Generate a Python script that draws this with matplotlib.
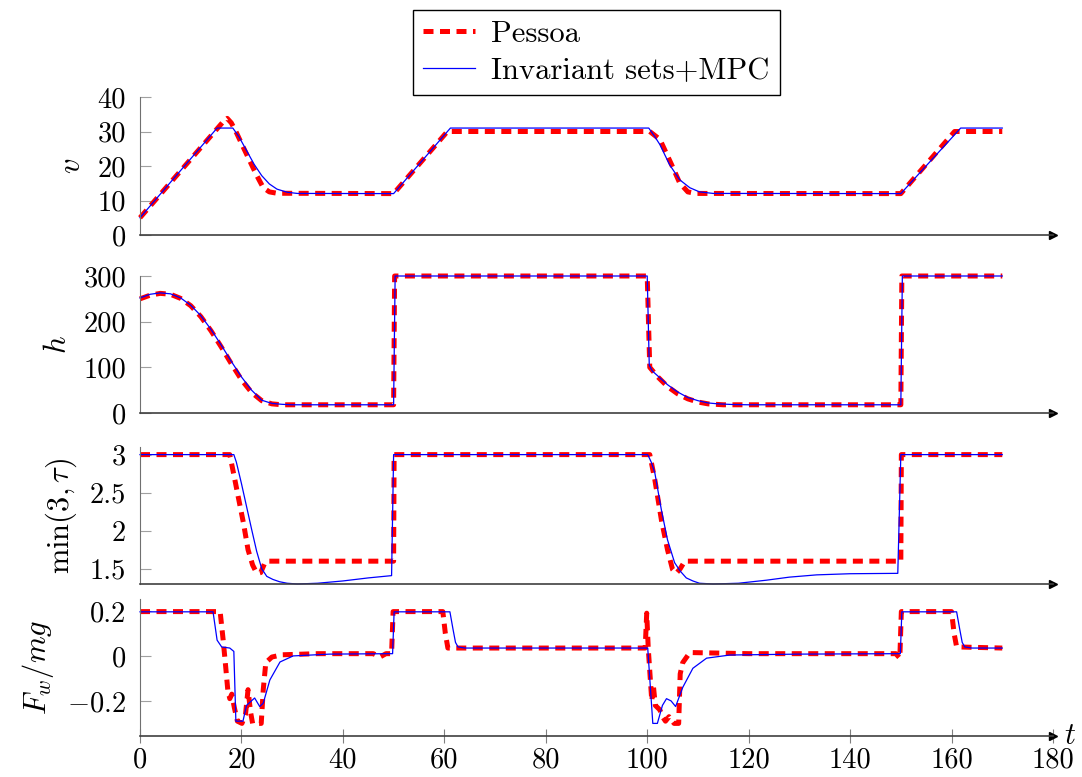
import numpy as np
import matplotlib.pyplot as plt

plt.rcParams['font.family'] = 'serif'
plt.rcParams['font.serif'] = ['cmr10', 'DejaVu Serif']
plt.rcParams['mathtext.fontset'] = 'cm'
plt.rcParams['axes.formatter.use_mathtext'] = True
plt.rcParams['axes.unicode_minus'] = True

FS_TICK = 20.5
FS_LAB = 22

# --- data ---
# v
v_mpc_t = [0, 15.2, 18.3, 19.5, 21, 22.5, 24, 25.5, 27, 29, 31, 50, 61.2, 100.3, 101.5, 102.5,
           104.4, 106.4, 108.4, 110.3, 113, 150, 161.8, 170]
v_mpc = [5, 31, 31, 28.5, 24.5, 20.5, 17.2, 14.8, 13.3, 12.4, 12.05, 12, 31, 31, 28.5, 26.2,
         20.4, 16, 13.7, 12.5, 12.05, 12, 31, 31]
v_pes_t = [0, 16.5, 17.2, 18, 19, 20.5, 21.7, 23, 24.3, 25.5, 27, 50, 60.6, 100.5, 102.5,
           104.8, 106.4, 108, 109.5, 150, 160.6, 170]
v_pes = [5, 33, 33.8, 32.5, 29.7, 25, 21.3, 17.3, 13.7, 12.5, 12.1, 12, 30, 30, 27.7,
         20.4, 15.1, 12.5, 12.05, 12, 30, 30]

# h
h_mpc_t = [0, 2, 4, 6, 8, 10, 12, 14, 16, 18, 20, 22, 24, 26, 28, 30, 50, 50.3, 100, 100.4,
           101, 102, 104, 106, 108, 110, 112, 114, 117, 120, 150, 150.3, 170]
h_mpc = [252, 260, 263, 261, 252, 236, 213, 183, 149, 113, 79, 50, 28, 21, 19, 18, 18, 300,
         300, 105, 92, 82, 62, 46, 34, 27, 22, 20, 18.5, 18, 18, 300, 300]
h_pes_t = [0, 2, 4, 6, 8, 10, 12, 14, 16, 18, 20, 22, 24, 26, 28, 50, 50.2, 100, 100.5, 102,
           104, 106, 108, 110, 112, 115, 150, 150.2, 170]
h_pes = [250, 258, 262, 260, 251, 235, 211, 180, 145, 108, 73, 45, 27, 20, 18, 18, 300, 300,
         100, 80, 58, 42, 31, 24, 20, 18, 18, 300, 300]

# min(3, tau)
tau_mpc_t = [0, 18.5, 19, 20, 21, 22, 23, 24, 25, 26.2, 27.5, 29, 31, 35, 40, 45, 49.6, 50,
             100.1, 100.8, 101.5, 102.8, 104, 105.4, 106.5, 107.7, 109, 110.3, 113, 118, 123.5,
             128, 133.4, 140, 149.4, 150, 170]
tau_mpc = [3, 3, 2.9, 2.62, 2.32, 2.02, 1.73, 1.5, 1.4, 1.36, 1.33, 1.31, 1.30, 1.31, 1.34,
           1.38, 1.41, 3, 3, 2.9, 2.76, 2.27, 1.88, 1.58, 1.47, 1.38, 1.34, 1.31, 1.30, 1.31,
           1.35, 1.39, 1.42, 1.435, 1.44, 3, 3]
tau_pes_t = [0, 17.7, 18.7, 19.5, 20.4, 21.3, 22.2, 22.8, 23.3, 23.8, 24.5, 25, 50, 50.1,
             100.5, 101.5, 102.8, 104, 105, 105.7, 106.5, 107.4, 150, 150.1, 170]
tau_pes = [3, 3, 2.67, 2.4, 2.10, 1.75, 1.55, 1.47, 1.44, 1.45, 1.56, 1.60, 1.60, 3,
           3, 2.67, 2.14, 1.75, 1.49, 1.44, 1.5, 1.60, 1.60, 3, 3]

# F_w / mg
f_mpc_t = [0, 14.4, 15.2, 16.1, 17.7, 18.5, 18.9, 20.3, 21, 22.6, 23.6, 24.3, 25.6, 27.6,
           30.2, 37.4, 49.8, 50.1, 61.1, 61.7, 62.2, 62.7, 64, 100.1, 101.1, 102, 103, 103.8,
           104.7, 105.6, 107, 109, 111.7, 116.3, 130, 149.9, 150.2, 161, 161.6, 162.1, 162.6,
           164, 170]
f_mpc = [0.196, 0.196, 0.07, 0.04, 0.035, 0.02, -0.29, -0.29, -0.22, -0.187, -0.225, -0.21,
         -0.107, -0.027, 0.0, 0.008, 0.01, 0.196, 0.196, 0.12, 0.06, 0.04, 0.035, 0.035, -0.30,
         -0.30, -0.22, -0.19, -0.20, -0.225, -0.14, -0.055, -0.01, 0.004, 0.008, 0.01, 0.196,
         0.196, 0.12, 0.06, 0.04, 0.035, 0.035]
f_pes_t = [0, 15.8, 16.4, 16.9, 17.3, 17.7, 18.1, 18.6, 19.2, 20.1, 20.8, 21.3, 21.8, 22.2,
           23.9, 24.3, 24.8, 26, 28, 35, 46, 47.3, 48.5, 49.6, 49.9, 59.7, 60.2, 60.7, 99.6,
           99.9, 100.2, 100.6, 100.9, 101.2, 101.6, 102.5, 103, 103.6, 104.3, 105.3, 106.2,
           106.5, 107, 108.4, 120, 149, 149.8, 150.1, 160, 160.5, 161, 170]
f_pes = [0.197, 0.197, 0.07, -0.05, -0.15, -0.19, -0.17, -0.23, -0.29, -0.30, -0.26, -0.15,
         -0.25, -0.30, -0.30, -0.15, -0.03, -0.005, 0.005, 0.01, 0.01, -0.005, 0.01, 0.01,
         0.197, 0.197, 0.10, 0.035, 0.035, 0.19, 0.035, -0.10, -0.20, -0.13, -0.22, -0.24,
         -0.27, -0.29, -0.27, -0.30, -0.30, -0.08, -0.03, 0.015, 0.01, 0.01, -0.01, 0.197,
         0.197, 0.10, 0.04, 0.035]

x_ticks = [0, 20, 40, 60, 80, 100, 120, 140, 160, 180]

panels = [
    (v_pes_t, v_pes, v_mpc_t, v_mpc, r'$v$', (0, 40), [0, 10, 20, 30, 40],
     ['0', '10', '20', '30', '40']),
    (h_pes_t, h_pes, h_mpc_t, h_mpc, r'$h$', (0, 300), [0, 100, 200, 300],
     ['0', '100', '200', '300']),
    (tau_pes_t, tau_pes, tau_mpc_t, tau_mpc, r'$\min(3,\tau)$', (1.3, 3.1), [1.5, 2, 2.5, 3],
     ['1.5', '2', '2.5', '3']),
    (f_pes_t, f_pes, f_mpc_t, f_mpc, r'$F_w/mg$', (-0.356, 0.253), [-0.2, 0, 0.2],
     [r'$-0.2$', '0', '0.2']),
]

fig = plt.figure(figsize=(10.82, 7.77), dpi=100)
W, H = 1082, 777
left, right = 140, 1053
tops = [97, 276, 447, 599]
bots = [235, 413, 584, 736]

for i, (tp, yp, tm, ym, lab, ylim, yt, ytl) in enumerate(panels):
    ax = fig.add_axes([left / W, 1 - bots[i] / H, (right - left) / W, (bots[i] - tops[i]) / H])
    lp, = ax.plot(tp, yp, color='red', lw=3.6, ls=(0, (2.0, 1.3)), clip_on=False,
                  label='Pessoa')
    lm, = ax.plot(tm, ym, color='blue', lw=0.9, clip_on=False, label='Invariant sets+MPC')
    ax.set_xlim(0, 180)
    ax.set_ylim(*ylim)
    ax.set_yticks(yt)
    ax.set_yticklabels(ytl, fontsize=FS_TICK)
    ax.set_ylabel(lab, fontsize=FS_LAB, labelpad=8)
    for s in ['top', 'right']:
        ax.spines[s].set_visible(False)
    ax.spines['left'].set_color('#707070')
    ax.spines['bottom'].set_color('#404040')
    ax.spines['bottom'].set_linewidth(1.2)
    ax.tick_params(axis='y', direction='in', length=8, color='#a0a0a0', pad=10)
    ax.plot(1, 0, marker='>', color='black', markersize=6, transform=ax.transAxes,
            clip_on=False)
    if i < 3:
        ax.set_xticks([])
    else:
        ax.set_xticks(x_ticks)
        ax.set_xticklabels([str(x) for x in x_ticks], fontsize=FS_TICK)
        ax.tick_params(axis='x', direction='inout', length=10, color='#808080', pad=3)
        ax.text(1.012, 0.0, r'$t$', transform=ax.transAxes, fontsize=FS_LAB, va='center')

fig.legend(handles=[lp, lm], loc='upper center', bbox_to_anchor=(0.551, 1 - 10 / H),
           borderaxespad=0, fontsize=FS_LAB, frameon=True, fancybox=False,
           edgecolor='black', framealpha=1, handlelength=1.7, handletextpad=0.5,
           borderpad=0.35, labelspacing=0.3)

fig.savefig('out.png', dpi=100)
